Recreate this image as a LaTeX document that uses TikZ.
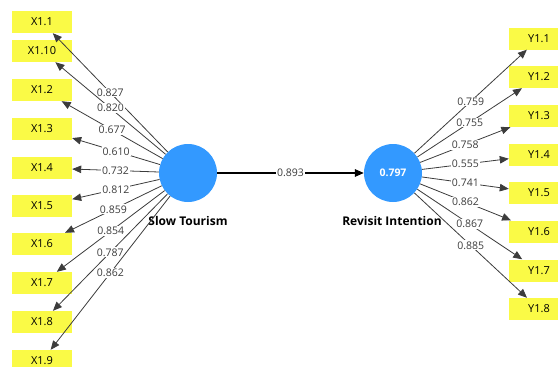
\documentclass[tikz,border=0pt]{standalone}
\usepackage{fontspec}
\setmainfont{Open Sans}
\usetikzlibrary{arrows.meta}

\definecolor{latentblue}{RGB}{51,153,255}
\definecolor{itemyellow}{RGB}{250,250,70}
\definecolor{loadgray}{RGB}{60,60,60}

\tikzset{
    item/.style={fill=itemyellow, minimum width=60pt, minimum height=22pt, inner sep=0pt, font=\fontsize{11}{13}\selectfont},
    latent/.style={circle, fill=latentblue, minimum size=58pt, inner sep=0pt, text=white, font=\fontsize{10.5}{12}\selectfont\bfseries},
    load/.style={draw=loadgray, line width=0.8pt, -{Triangle[length=9pt,width=7.5pt]}},
    val/.style={fill=white, inner sep=1pt, text=loadgray, font=\fontsize{10.5}{12}\selectfont}
}

\begin{document}
\begin{tikzpicture}[x=1pt, y=-1pt]
    \useasboundingbox (0,0) rectangle (558,367);

    % Latent variables
    \node[latent] (ST) at (188,173) {};
    \node[latent] (RI) at (393,173) {0.797};
    \node[font=\fontsize{12}{14}\selectfont\bfseries] (STlabel) at (188,221) {Slow Tourism};
    \node[font=\fontsize{12}{14}\selectfont\bfseries] (RIlabel) at (392,221) {Revisit Intention};

    % Indicators of Slow Tourism
    \node[item] (X1) at (42,22) {X1.1};
    \node[item] (X10) at (42,51) {X1.10};
    \node[item] (X2) at (42,90) {X1.2};
    \node[item] (X3) at (42,129) {X1.3};
    \node[item] (X4) at (42,168) {X1.4};
    \node[item] (X5) at (42,206) {X1.5};
    \node[item] (X6) at (42,244) {X1.6};
    \node[item] (X7) at (42,283) {X1.7};
    \node[item] (X8) at (42,322) {X1.8};
    \node[item] (X9) at (42,361) {X1.9};

    % Indicators of Revisit Intention
    \node[item] (Y1) at (539,38.5) {Y1.1};
    \node[item] (Y2) at (539,77) {Y1.2};
    \node[item] (Y3) at (539,116) {Y1.3};
    \node[item] (Y4) at (539,155) {Y1.4};
    \node[item] (Y5) at (539,193) {Y1.5};
    \node[item] (Y6) at (539,231.5) {Y1.6};
    \node[item] (Y7) at (539,270.5) {Y1.7};
    \node[item] (Y8) at (539,309) {Y1.8};

    % Outer loadings, Slow Tourism
    \draw[load] (ST) -- node[val] {0.827} (X1);
    \draw[load] (ST) -- node[val] {0.820} (X10);
    \draw[load] (ST) -- node[val] {0.677} (X2);
    \draw[load] (ST) -- node[val] {0.610} (X3);
    \draw[load] (ST) -- node[val] {0.732} (X4);
    \draw[load] (ST) -- node[val] {0.812} (X5);
    \draw[load] (ST) -- node[val] {0.859} (X6);
    \draw[load] (ST) -- node[val] {0.854} (X7);
    \draw[load] (ST) -- node[val] {0.787} (X8);
    \draw[load] (ST) -- node[val] {0.862} (X9);

    % Outer loadings, Revisit Intention
    \draw[load] (RI) -- node[val] {0.759} (Y1);
    \draw[load] (RI) -- node[val] {0.755} (Y2);
    \draw[load] (RI) -- node[val] {0.758} (Y3);
    \draw[load] (RI) -- node[val] {0.555} (Y4);
    \draw[load] (RI) -- node[val] {0.741} (Y5);
    \draw[load] (RI) -- node[val] {0.862} (Y6);
    \draw[load] (RI) -- node[val] {0.867} (Y7);
    \draw[load] (RI) -- node[val] {0.885} (Y8);

    % Path coefficient
    \draw[load, draw=black, line width=1.4pt] (ST) -- node[val] {0.893} (RI);
\end{tikzpicture}
\end{document}
